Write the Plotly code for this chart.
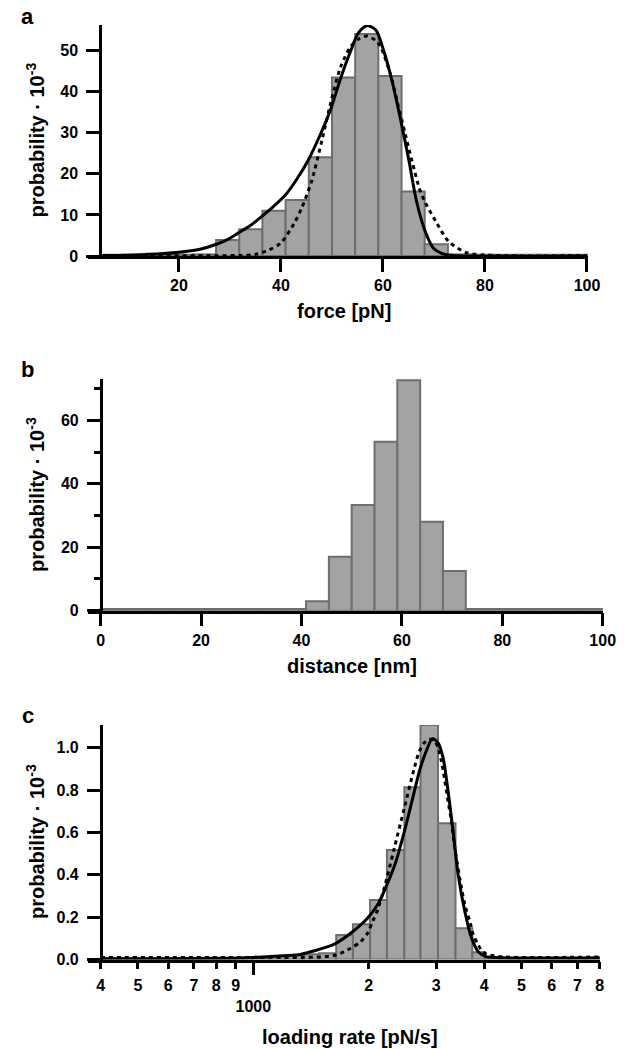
import numpy as np
import plotly.graph_objects as go

W, H = 628, 1049

# ---------------- data: panel a (rupture force) ----------------
force_edges = [4.55, 9.09, 13.64, 18.18, 22.73, 27.27, 31.82, 36.36, 40.91, 45.45,
               50.0, 54.55, 59.09, 63.64, 68.18, 72.73, 77.27, 81.82, 86.36, 90.91,
               95.45, 100.0]
force_prob = [0.3, 0.3, 0.3, 0.3, 0.4, 3.9, 6.5, 11.0, 13.6, 24.0, 43.4, 54.0, 43.8,
              15.7, 2.85, 0.4, 0.3, 0.3, 0.3, 0.3, 0.3]
force_fit_x = [5, 8, 11, 14, 17, 20, 22, 24.3, 27.2, 29.5, 31.5, 34, 36.2, 38.5, 40.9,
               43, 45.2, 47.7, 49.7, 51.6, 53.6, 55.2, 56.9, 58.6, 60.2, 61.8, 63.4,
               65.0, 66.6, 68.3, 69.9, 71.5, 73.1, 76, 100]
force_fit_y = [0.1, 0.15, 0.25, 0.4, 0.6, 0.9, 1.2, 1.7, 2.8, 4.0, 5.5, 7.4, 9.6,
               12.0, 14.9, 18.5, 23.0, 29.5, 35.5, 42.9, 49.7, 54.3, 56.0, 55.0, 49.7,
               42.5, 33.5, 23.8, 13.2, 5.9, 1.9, 0.65, 0.2, 0.0, 0.0]
force_gauss_x = [5, 25, 32, 35, 37.7, 40, 42.6, 44, 46, 48, 50, 51.7, 53.7, 55.5, 57,
                 58.5, 59.5, 61.5, 62.8, 64.4, 65.7, 67.3, 68.3, 70.6, 72.9, 76.4,
                 80, 85, 100]
force_gauss_y = [0.05, 0.05, 0.15, 0.4, 1.5, 3.2, 8.0, 11.5, 18.2, 28, 38.5, 46, 51,
                 53, 53.5, 52.5, 51, 44, 37.5, 29.5, 23, 15.8, 13, 7.9, 3.5, 0.8,
                 0.25, 0.05, 0.05]

# ---------------- data: panel b (distance) ----------------
dist_edges = [0.0, 4.55, 9.09, 13.64, 18.18, 22.73, 27.27, 31.82, 36.36, 40.91, 45.45,
              50.0, 54.55, 59.09, 63.64, 68.18, 72.73, 77.27, 81.82, 86.36, 90.91,
              95.45, 100.0]
dist_prob = [0.5, 0.5, 0.5, 0.5, 0.5, 0.5, 0.5, 0.5, 0.5, 3.0, 17.0, 33.3, 53.2, 72.6,
             28.0, 12.5, 0.5, 0.5, 0.5, 0.5, 0.5, 0.5]

# ---------------- data: panel c (loading rate) ----------------
rate_edges = [400, 444, 491, 543, 601, 665, 735, 813, 899, 994, 1100, 1216, 1345,
              1487, 1645, 1819, 2016, 2231, 2477, 2729, 3031, 3367, 3724, 4019,
              4445, 4916, 5437, 6013, 6650, 7355, 8000]
rate_prob = [0.006, 0.006, 0.006, 0.006, 0.006, 0.006, 0.006, 0.006, 0.006, 0.01,
             0.015, 0.02, 0.025, 0.03, 0.116, 0.166, 0.281, 0.517, 0.813, 1.107,
             0.643, 0.147, 0.034, 0.006, 0.006, 0.006, 0.006, 0.006, 0.006, 0.006]
rate_fit_x = [400, 600, 800, 1000, 1200, 1326, 1467, 1622, 1794, 1985, 2109, 2240,
              2355, 2477, 2605, 2712, 2824, 2930, 3031, 3124, 3220, 3319, 3421,
              3562, 3709, 3862, 4021, 4500, 8000]
rate_fit_y = [0.003, 0.004, 0.006, 0.01, 0.018, 0.024, 0.045, 0.071, 0.124, 0.195,
              0.258, 0.361, 0.463, 0.605, 0.763, 0.89, 0.984, 1.042, 1.024, 0.953,
              0.795, 0.605, 0.4, 0.226, 0.10, 0.036, 0.015, 0.008, 0.008]
rate_gauss_x = [400, 1000, 1622, 1794, 1906, 1985, 2046, 2109, 2195, 2332, 2477, 2631,
                2712, 2795, 2881, 2970, 3031, 3093, 3155, 3220, 3285, 3352, 3491,
                3562, 3672, 3747, 3862, 3964, 4086, 4500, 8000]
rate_gauss_y = [0.01, 0.01, 0.019, 0.053, 0.084, 0.124, 0.179, 0.234, 0.337, 0.526,
                0.716, 0.906, 0.984, 1.024, 1.04, 1.032, 1.0, 0.937, 0.85, 0.747,
                0.653, 0.526, 0.337, 0.258, 0.179, 0.116, 0.068, 0.036, 0.024, 0.012,
                0.012]

force_ticks = [20, 40, 60, 80, 100]
force_yticks = [0, 10, 20, 30, 40, 50]
dist_ticks = [0, 20, 40, 60, 80, 100]
dist_yticks = [0, 20, 40, 60]
dist_yminor = [10, 30, 50, 70]
rate_ticks = [400, 500, 600, 700, 800, 900, 1000, 2000, 3000, 4000, 5000, 6000, 7000, 8000]
rate_ticktext = ["4", "5", "6", "7", "8", "9", "<br>1000", "2", "3", "4", "5", "6", "7", "8"]
rate_yticks = [0.0, 0.2, 0.4, 0.6, 0.8, 1.0]

ytitle = "probability · 10<sup>-3</sup>"
panel_labels = ["a", "b", "c"]
x_titles = ["force [pN]", "distance [nm]", "loading rate [pN/s]"]

# ---------------- styling ----------------
FONT = "Liberation Sans, Arial, Helvetica, sans-serif"
BAR_FILL = "#a3a3a3"
BAR_EDGE = "#6e6e6e"
LW = 2.5


def fx(px):
    return px / W


def fy(py):
    return 1 - py / H


fig = go.Figure()


def add_hist(edges, probs, xa, ya):
    e = np.asarray(edges, dtype=float)
    fig.add_trace(go.Bar(
        x=e[:-1], y=probs, width=np.diff(e), offset=0,
        marker=dict(color=BAR_FILL, line=dict(color=BAR_EDGE, width=2)),
        xaxis=xa, yaxis=ya, showlegend=False, hoverinfo="skip"))


def add_curve(xs, ys, xa, ya, dash):
    fig.add_trace(go.Scatter(
        x=xs, y=ys, mode="lines",
        line=dict(color="black", width=3, dash=dash, shape="spline", smoothing=0.8),
        xaxis=xa, yaxis=ya, showlegend=False, hoverinfo="skip"))


add_hist(force_edges, force_prob, "x", "y")
add_curve(force_gauss_x, force_gauss_y, "x", "y", "4px,4px")
add_curve(force_fit_x, force_fit_y, "x", "y", "solid")

add_hist(dist_edges, dist_prob, "x2", "y2")

add_hist(rate_edges, rate_prob, "x3", "y3")
add_curve(rate_gauss_x, rate_gauss_y, "x3", "y3", "4px,4px")
add_curve(rate_fit_x, rate_fit_y, "x3", "y3", "solid")

tickfont = dict(family=FONT, size=16, color="black", weight="bold")
titlefont = dict(family=FONT, size=20, color="black", weight="bold")

common_x = dict(showgrid=False, zeroline=False, showline=True, linecolor="black",
                linewidth=LW, ticks="outside", tickcolor="black", tickwidth=LW,
                tickfont=tickfont, automargin=False, fixedrange=True, tickangle=0)
common_y = dict(showgrid=False, zeroline=False, showline=True, linecolor="black",
                linewidth=LW, ticks="outside", tickcolor="black", tickwidth=LW,
                tickfont=tickfont, automargin=False, fixedrange=True, anchor="free",
                ticklabelstandoff=5)

fig.update_layout(
    width=W, height=H,
    margin=dict(l=0, r=0, t=0, b=0),
    paper_bgcolor="white", plot_bgcolor="white",
    font=dict(family=FONT, color="black", weight="bold"),
    barmode="overlay",
    xaxis=dict(common_x, domain=[fx(88), fx(588)], range=[2.16, 100.2], anchor="y",
               tickmode="array", tickvals=force_ticks, ticklen=13, ticklabelstandoff=0),
    yaxis=dict(common_y, domain=[fy(256), fy(25)], range=[0, 56.2], position=fx(100),
               tickmode="array", tickvals=force_yticks, ticklen=13),
    xaxis2=dict(common_x, domain=[fx(88), fx(603)], range=[-2.53, 100.06], anchor="y2",
                tickmode="array", tickvals=dist_ticks, ticklen=13, ticklabelstandoff=0),
    yaxis2=dict(common_y, domain=[fy(610.7), fy(379)], range=[0, 73], position=fx(100.7),
                tickmode="array", tickvals=dist_yticks, ticklen=13,
                minor=dict(tickmode="array", tickvals=dist_yminor, ticklen=6,
                           ticks="outside", tickcolor="black", tickwidth=LW)),
    xaxis3=dict(common_x, type="log", domain=[fx(88), fx(600)], range=[2.569, 3.904],
                anchor="y3", tickmode="array", tickvals=rate_ticks, ticktext=rate_ticktext,
                ticklen=7, ticklabelstandoff=3,
                minor=dict(tickmode="array", tickvals=[1000], ticklen=13,
                           ticks="outside", tickcolor="black", tickwidth=LW)),
    yaxis3=dict(common_y, domain=[fy(959.5), fy(725)], range=[0, 1.107], position=fx(100.7),
                tickmode="array", tickvals=rate_yticks, tickformat=".1f", ticklen=13),
)

# panel letters, axis titles (placed in pixel terms of the 628x1049 canvas)
letter_pos = [(27, 17), (28, 370), (28, 715)]
xtitle_pos = [(344, 311), (352, 666), (350, 1037)]
ytitle_pos = [(35, 140.5), (35, 495), (35, 842)]
for i in range(3):
    lx, ly = letter_pos[i]
    fig.add_annotation(text=panel_labels[i], x=fx(lx), y=fy(ly), xref="paper", yref="paper",
                       showarrow=False, xanchor="center", yanchor="middle",
                       font=dict(family=FONT, size=22, color="black", weight="bold"))
    tx, ty = xtitle_pos[i]
    fig.add_annotation(text=x_titles[i], x=fx(tx), y=fy(ty), xref="paper", yref="paper",
                       showarrow=False, xanchor="center", yanchor="middle", font=titlefont)
    vx, vy = ytitle_pos[i]
    fig.add_annotation(text=ytitle, x=fx(vx), y=fy(vy), xref="paper", yref="paper",
                       showarrow=False, xanchor="center", yanchor="middle", textangle=-90,
                       font=titlefont)

fig.write_html("out.html", config={"displayModeBar": False},
               post_script="document.body.style.margin='0';document.body.style.overflow='hidden';")
